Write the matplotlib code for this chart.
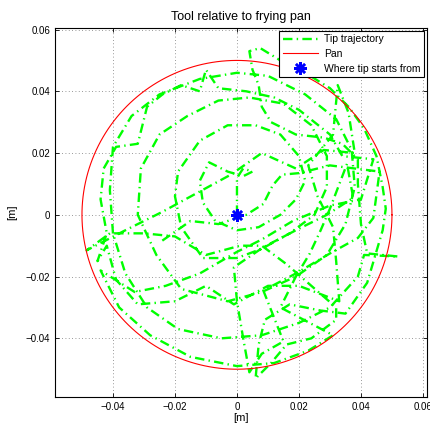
import numpy as np
import matplotlib
matplotlib.use('Agg')
import matplotlib.pyplot as plt

plt.rcParams['font.family'] = ['Liberation Sans', 'DejaVu Sans']

# tip trajectory, (x, y) in centimetres
spiral_cm = [
    (0.0, 0.0), (0.0, 0.6), (0.0, 1.2), (0.2, 1.5), (0.5, 1.4), (0.2, 1.25), (-0.3, 1.4),
    (-0.9, 1.7), (-1.2, 1.1), (-1.1, 0.4), (-0.7, -0.2), (0.0, -0.5), (0.7, -0.4), (1.4, 0.0),
    (1.9, 0.5), (2.2, 1.1), (2.0, 1.9), (1.4, 2.6), (0.6, 2.9), (-0.3, 2.9), (-1.2, 2.4),
    (-1.9, 1.4), (-2.0, 0.6), (-1.8, -0.4), (-1.1, -1.4), (0.0, -1.4), (0.8, -1.1), (1.7, -0.6),
    (2.5, 0.0), (2.9, 0.9), (2.9, 1.9), (2.4, 2.9), (1.5, 3.6), (0.4, 3.8), (-0.6, 3.7),
    (-1.6, 3.2), (-2.5, 2.6), (-3.1, 1.5), (-3.2, 0.0), (-2.6, -1.3), (-1.8, -2.4), (-0.3, -2.8),
    (0.8, -2.5), (1.9, -2.0), (2.9, -1.3), (3.5, -0.3), (3.8, 0.9), (3.7, 2.1), (3.2, 3.1),
    (2.2, 3.9), (1.0, 4.5), (0.0, 4.6), (-1.2, 4.4), (-2.5, 3.9), (-3.4, 3.2), (-4.0, 2.2),
    (-4.1, 0.8), (-4.0, -0.6), (-3.6, -1.9), (-2.9, -3.0), (-1.9, -3.7), (-0.5, -4.0),
    (0.8, -3.9), (2.0, -3.5), (3.0, -3.0),
]
wander_cm = [
    (3.9, -2.0), (4.1, -1.3), (5.2, -1.35), (4.2, -1.25), (4.0, -0.3), (3.9, 1.0), (3.9, 1.8),
    (3.4, 2.3), (2.8, 2.5), (1.9, 2.6), (1.1, 3.0), (0.8, 3.5), (0.7, 4.2), (0.5, 4.7),
    (0.4, 5.3), (0.75, 5.4), (1.4, 5.0), (2.2, 4.6), (3.0, 4.1), (3.6, 3.5), (4.1, 2.8),
    (4.5, 1.9), (4.7, 0.9), (4.8, 0.2), (4.7, -0.5), (4.2, -2.2), (3.5, -3.2), (2.7, -3.1),
    (1.7, -2.9), (0.9, -3.4), (0.7, -4.2), (0.6, -5.3), (1.1, -4.8), (1.6, -4.2), (2.4, -4.0),
    (3.2, -3.4), (3.2, -3.0), (2.4, -2.3), (1.6, -1.6), (0.8, -1.0), (0.1, -1.0), (-1.0, -1.3),
    (-2.0, -0.7), (-3.0, -0.6), (-4.1, -0.6), (-4.85, -1.15), (-3.6, -0.5), (-2.4, 0.1),
    (-1.3, 0.7), (-0.2, 1.3), (0.8, 2.0), (1.9, 1.5), (2.8, 2.1), (3.8, 2.0), (3.6, 3.3),
    (3.25, 4.2), (3.1, 2.6), (2.3, 1.6), (2.6, 0.6), (3.1, -0.4), (3.2, -1.5), (3.3, -2.8),
    (2.0, -2.3), (1.0, -2.3), (-0.1, -2.9), (-1.0, -2.3), (-2.0, -2.8), (-3.2, -2.9),
    (-3.9, -2.1), (-4.2, -1.0), (-4.5, -1.5), (-4.2, -0.6), (-4.4, 0.5), (-4.3, 1.5),
    (-3.9, 2.2), (-3.2, 2.3), (-2.9, 3.5), (-2.4, 3.9), (-1.8, 4.2), (-1.2, 4.0), (-1.0, 4.7),
    (-0.8, 4.4), (-0.6, 4.1), (0.3, 4.0), (1.2, 3.8), (2.0, 3.4), (3.0, 2.6), (3.4, 1.9),
    (4.4, 1.8), (4.0, 0.5), (3.0, 0.3), (1.8, -0.2), (0.8, -0.8), (0.0, -1.2), (-1.2, -1.9),
    (-2.3, -2.3), (-3.3, -2.5), (-4.4, -1.8), (-3.8, -3.0), (-2.8, -3.9), (-1.5, -4.6),
    (0.0, -4.9), (1.2, -4.8), (2.3, -4.4), (3.1, -3.9),
    (1.4, -3.0), (1.9, -2.0), (2.35, -1.25), (2.7, -0.5), (3.0, 0.2), (3.55, 1.65),
    (3.75, 0.55), (2.9, 0.0), (1.9, -0.5), (0.85, -1.05), (-0.1, -1.7), (0.0, -2.8),
    (0.2, -4.0), (0.4, -5.1), (0.8, -4.5), (1.5, -4.1), (0.85, -2.45), (1.9, -1.9),
    (3.0, -1.25), (3.9, -0.75), (4.4, -0.1), (4.6, 1.4), (3.0, 1.6), (2.0, 1.35),
    (1.45, 1.3), (1.15, 0.95), (0.85, 0.35), (0.3, 0.0), (-0.6, -0.3), (-1.5, -0.2),
    (-2.5, -0.9),
]

start_x = [0.0]
start_y = [0.0]
pan_radius = 0.05

x_ticks = [-0.04, -0.02, 0.0, 0.02, 0.04, 0.06]
x_tick_labels = ['\u22120.04', '\u22120.02', '0', '0.02', '0.04', '0.06']
y_ticks = [-0.04, -0.02, 0.0, 0.02, 0.04, 0.06]
y_tick_labels = ['\u22120.04', '\u22120.02', '0', '0.02', '0.04', '0.06']

tip = np.array(spiral_cm + wander_cm) * 0.01

fig = plt.figure(figsize=(4.31, 4.30), dpi=100)
ax = fig.add_axes([55 / 431, 1 - 397 / 430, 372 / 431, 369 / 430])

ax.plot(tip[:, 0], tip[:, 1], color='#00ff00', lw=1.7,
        linestyle=(0, (4.0, 1.8, 0.6, 1.8)), label='Tip trajectory')
ang = np.linspace(0, 2 * np.pi, 400)
ax.plot(pan_radius * np.cos(ang), pan_radius * np.sin(ang), color='red', lw=0.8, label='Pan')
ax.plot(start_x, start_y, linestyle='none', marker=(8, 2, 0), markersize=9,
        markeredgewidth=1.8, color='blue', label='Where tip starts from')

ax.set_xlim(-0.0587, 0.0613)
ax.set_ylim(-0.059, 0.0605)
ax.set_xticks(x_ticks)
ax.set_xticklabels(x_tick_labels)
ax.set_yticks(y_ticks)
ax.set_yticklabels(y_tick_labels)
ax.tick_params(direction='in', top=True, right=True, labelsize=7, length=3, width=0.6)
ax.grid(True, linestyle=(0, (1, 3)), color='#777777', lw=0.6)
for s in ax.spines.values():
    s.set_linewidth(0.8)

ax.set_title('Tool relative to frying pan', fontsize=9, pad=6)
ax.set_xlabel('[m]', fontsize=8, labelpad=1)
ax.set_ylabel('[m]', fontsize=8, labelpad=6)

leg = ax.legend(loc='upper right', fontsize=7.5, fancybox=False, framealpha=1,
                edgecolor='black', borderaxespad=0.25, handlelength=3.4,
                borderpad=0.35, labelspacing=0.45, handletextpad=0.6)
leg.get_frame().set_linewidth(0.8)

fig.savefig('out.png', dpi=100)
